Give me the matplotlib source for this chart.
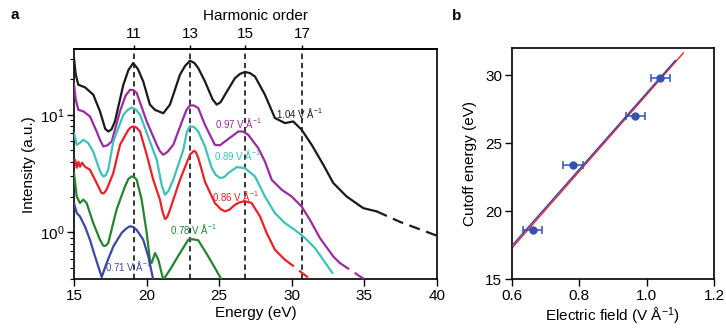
import matplotlib
matplotlib.use("Agg")
import matplotlib.pyplot as plt
import numpy as np

plt.rcParams['font.family'] = ['Liberation Sans', 'DejaVu Sans']
plt.rcParams['mathtext.fontset'] = 'custom'
plt.rcParams['mathtext.rm'] = 'Liberation Sans'
plt.rcParams['mathtext.it'] = 'Liberation Sans:italic'
plt.rcParams['mathtext.bf'] = 'Liberation Sans:bold'

# ---------------- Panel a data ----------------
black_E = [15.00, 15.12, 15.30, 15.76, 16.33, 16.79, 17.15, 17.36, 17.58, 17.82, 18.40, 18.75,
           19.08, 19.40, 19.77, 20.23, 20.58, 21.15, 21.61, 22.30, 22.65, 22.99, 23.30, 23.56,
           24.02, 24.55, 24.83, 25.10, 25.40, 26.09, 26.45, 26.78, 27.12, 27.47, 28.15, 28.84,
           29.53, 30.10, 30.68, 31.37, 32.17, 32.86, 33.78, 34.92, 35.85]
black_I = [30.3, 22.0, 18.0, 17.1, 14.8, 10.7, 7.6, 7.21, 7.5, 8.77, 18.0, 24.0,
           27.5, 24.5, 19.2, 12.2, 11.0, 10.3, 12.2, 21.9, 26.0, 28.8, 27.5, 24.9,
           19.2, 13.5, 12.2, 12.8, 14.8, 20.5, 22.3, 23.1, 22.6, 21.1, 14.8, 9.38,
           8.50, 8.77, 7.46, 5.56, 3.76, 2.63, 2.02, 1.61, 1.51]
black_dash_E = [35.85, 37.45, 39.98]
black_dash_I = [1.51, 1.23, 0.94]

magenta_E = [15.00, 15.12, 15.30, 15.64, 16.10, 16.56, 16.80, 17.02, 17.30, 17.60, 18.17, 18.55,
             18.86, 19.10, 19.32, 20.01, 20.70, 20.92, 21.15, 21.45, 21.84, 22.53, 22.75, 22.99,
             23.25, 23.56, 24.02, 24.70, 25.05, 25.40, 26.32, 26.65, 27.00, 27.69, 28.15, 28.62,
             29.30, 29.99, 30.68, 31.25, 31.94, 32.86, 33.31]
magenta_I = [18.2, 13.5, 11.0, 10.7, 9.68, 7.21, 6.1, 5.38, 5.5, 5.93, 10.7, 14.5,
             16.3, 16.2, 15.3, 8.77, 5.56, 4.9, 4.57, 4.85, 5.56, 9.38, 11.0, 12.0,
             12.0, 11.4, 8.22, 5.56, 5.5, 5.93, 7.21, 7.2, 6.76, 5.21, 4.01, 2.80,
             2.31, 2.02, 1.66, 1.28, 0.896, 0.625, 0.550]
magenta_dash_E = [33.31, 35.04]
magenta_dash_I = [0.550, 0.397]

cyan_E = [15.00, 15.19, 15.41, 15.64, 15.98, 16.33, 16.67, 16.85, 17.02, 17.18, 17.36, 17.71,
          18.40, 18.70, 18.97, 19.25, 19.55, 20.23, 20.70, 21.05, 21.27, 21.50, 21.84, 22.53,
          22.78, 22.99, 23.25, 23.56, 24.02, 24.48, 24.75, 25.06, 25.35, 25.63, 26.21, 26.78,
          27.47, 28.15, 28.84, 29.53, 30.22, 30.91, 31.60, 32.40]
cyan_I = [7.0, 5.56, 5.78, 6.13, 5.75, 4.85, 3.64, 3.2, 2.99, 3.05, 3.41, 5.93,
          10.0, 11.0, 11.5, 11.1, 10.0, 5.93, 4.15, 2.5, 2.09, 2.25, 2.80, 5.04,
          7.2, 7.96, 7.9, 7.21, 5.38, 3.55, 3.1, 2.90, 2.95, 3.20, 3.59, 3.52,
          2.99, 2.02, 1.46, 1.20, 1.05, 0.896, 0.736, 0.532]
cyan_dash_E = [32.40, 33.09]
cyan_dash_I = [0.532, 0.402]

red_E = [15.07, 15.19, 15.30, 15.41, 15.55, 15.76, 16.10, 16.56, 16.90, 17.05, 17.25, 17.71,
         18.17, 18.75, 18.90, 19.08, 19.30, 19.55, 20.01, 20.46, 20.92, 21.10, 21.27, 21.42,
         21.61, 22.30, 22.76, 23.00, 23.26, 23.40, 23.56, 24.02, 24.70, 25.10, 25.40, 25.70,
         26.09, 26.40, 26.66, 26.95, 27.23, 27.81, 28.27, 28.84, 29.53]
red_I = [4.15, 3.55, 3.99, 3.62, 3.91, 3.62, 3.41, 2.63, 2.16, 2.15, 2.31, 3.20,
         5.56, 7.46, 7.8, 7.96, 7.8, 7.21, 4.57, 2.80, 1.90, 1.5, 1.30, 1.35,
         1.56, 2.80, 3.89, 4.6, 4.94, 4.8, 4.31, 2.70, 1.78, 1.58, 1.51, 1.56,
         1.72, 1.80, 1.83, 1.82, 1.78, 1.37, 0.99, 0.713, 0.586]
red_dash_E = [29.53, 29.99, 31.25]
red_dash_I = [0.586, 0.532, 0.402]

green_E = [15.00, 15.19, 15.41, 15.64, 15.87, 16.33, 16.79, 17.02, 17.18, 17.36, 17.93, 18.51,
           18.75, 18.97, 19.15, 19.32, 19.66, 20.01, 20.23, 20.35, 20.58, 20.81, 21.15, 21.61,
           22.30, 22.87, 23.20, 23.56, 24.25, 24.70, 25.17]
green_I = [3.20, 2.02, 1.78, 1.90, 1.78, 1.20, 0.867, 0.771, 0.77, 0.813, 1.56, 2.46,
           2.85, 2.99, 2.95, 2.80, 1.90, 0.99, 0.586, 0.550, 0.668, 0.586, 0.396, 0.482,
           0.668, 0.867, 0.875, 0.858, 0.625, 0.501, 0.396]

blue_E = [15.00, 15.19, 15.41, 15.76, 16.10, 16.45, 16.91, 17.25, 17.71, 18.28, 18.60, 18.86,
          19.10, 19.32, 19.77, 20.12, 20.46]
blue_I = [1.78, 1.46, 1.37, 1.12, 0.867, 0.625, 0.418, 0.550, 0.760, 0.99, 1.08, 1.13,
          1.11, 1.05, 0.867, 0.625, 0.396]

harmonic_E = [19.1, 23.0, 26.8, 30.7]
harmonic_orders = ['11', '13', '15', '17']

field_labels = ['1.04', '0.97', '0.89', '0.86', '0.78', '0.71']
label_E = [30.5, 26.36, 26.26, 26.1, 23.2, 18.75]
label_I = [10.4, 8.5, 4.57, 2.05, 1.08, 0.514]

# ---------------- Panel b data ----------------
field = [0.662, 0.781, 0.967, 1.041]
cutoff = [18.6, 23.4, 27.0, 29.8]
field_err = [0.029, 0.030, 0.029, 0.028]
fit_blue_x = [0.6, 1.085]
fit_blue_y = [17.45, 31.1]
fit_red_x = [0.6, 1.109]
fit_red_y = [17.28, 31.66]

# ---------------- Styles ----------------
c_black = '#1a1a1a'
c_mag = '#9a2ba0'
c_cyan = '#3fc1b9'
c_red = '#ec2128'
c_green = '#25852e'
c_blue = '#3a48a6'
colors = [c_black, c_mag, c_cyan, c_red, c_green, c_blue]

fig = plt.figure(figsize=(7.26, 3.28), dpi=100)
ax = fig.add_axes([0.1019, 0.1485, 0.5, 0.7012])
axb = fig.add_axes([0.7048, 0.1485, 0.2787, 0.7042])

lw = 1.6
dash = (0, (5, 3))
for hE in harmonic_E:
    ax.axvline(hE, color='black', lw=1.1, ls=(0, (3.5, 2.5)), zorder=1)

series = [(black_E, black_I, black_dash_E, black_dash_I, c_black),
          (magenta_E, magenta_I, magenta_dash_E, magenta_dash_I, c_mag),
          (cyan_E, cyan_I, cyan_dash_E, cyan_dash_I, c_cyan),
          (red_E, red_I, red_dash_E, red_dash_I, c_red),
          (green_E, green_I, None, None, c_green),
          (blue_E, blue_I, None, None, c_blue)]
for E, I, dE, dI, c in series:
    ax.plot(E, I, color=c, lw=lw, zorder=3, solid_joinstyle='round', solid_capstyle='round')
    if dE is not None:
        ax.plot(dE, dI, color=c, lw=lw, ls=dash, zorder=3)

for txt, x, y, c in zip(field_labels, label_E, label_I, colors):
    ax.text(x, y, txt + r' V Å$^{-1}$', color=c, fontsize=7, ha='center', va='center',
            family=['Liberation Sans Narrow', 'Liberation Sans', 'DejaVu Sans'], zorder=4)

ax.set_yscale('log')
ax.set_xlim(15, 40)
ax.set_ylim(0.40, 36)
ax.set_xticks([15, 20, 25, 30, 35, 40])
ax.set_xlabel('Energy (eV)', fontsize=11, labelpad=2)
ax.set_ylabel('Intensity (a.u.)', fontsize=11, labelpad=3)
ax.tick_params(axis='both', which='major', direction='out', length=5, width=1, labelsize=11, pad=2)
ax.tick_params(axis='y', which='minor', direction='out', length=3, width=0.8)
for s in ax.spines.values():
    s.set_linewidth(1.2)

top = ax.secondary_xaxis('top')
top.set_xticks(harmonic_E)
top.set_xticklabels(harmonic_orders)
top.tick_params(direction='out', length=3, width=1, labelsize=11, pad=3)
top.set_xlabel('Harmonic order', fontsize=11, labelpad=5)
top.spines['top'].set_linewidth(1.2)

# Panel b
axb.plot(fit_red_x, fit_red_y, color='#e8252a', lw=1.0, zorder=2)
axb.plot(fit_blue_x, fit_blue_y, color='#3b3fa8', lw=1.0, zorder=3)
axb.errorbar(field, cutoff, xerr=field_err, fmt='o', color='#3552b0', ms=5,
             elinewidth=1.1, capsize=3, capthick=1.1, zorder=4)
axb.set_xlim(0.6, 1.2)
axb.set_ylim(15, 32)
axb.set_xticks([0.6, 0.8, 1.0, 1.2])
axb.set_xticklabels(['0.6', '0.8', '1.0', '1.2'])
axb.set_yticks([15, 20, 25, 30])
axb.set_xlabel(r'Electric field (V Å$^{-1}$)', fontsize=11, labelpad=2)
axb.set_ylabel('Cutoff energy (eV)', fontsize=11, labelpad=6)
axb.tick_params(direction='out', length=5, width=1, labelsize=11, pad=2)
for s in axb.spines.values():
    s.set_linewidth(1.2)

fig.text(0.014, 0.955, 'a', fontsize=11, fontweight='bold', va='center')
fig.text(0.622, 0.950, 'b', fontsize=11, fontweight='bold', va='center')

fig.savefig('out.png', dpi=100)
